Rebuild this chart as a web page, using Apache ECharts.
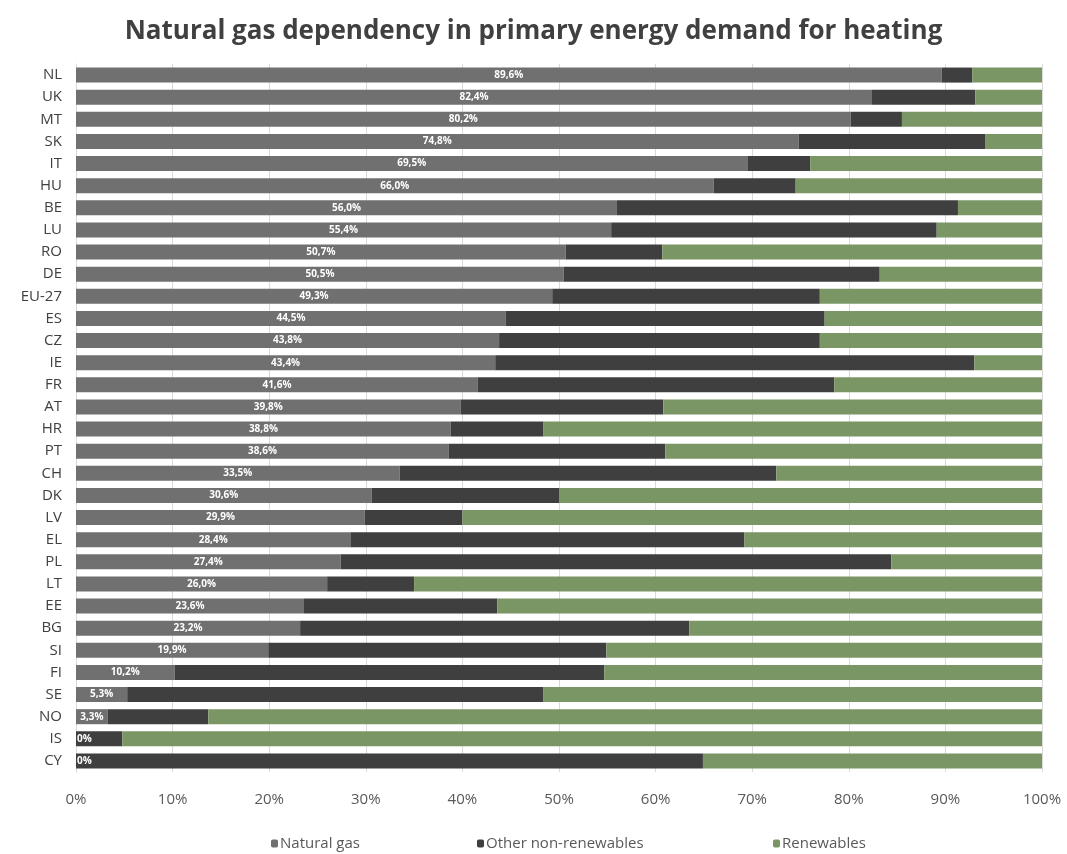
<!DOCTYPE html>
<html>
<head>
<meta charset="utf-8">
<script src="https://cdn.jsdelivr.net/npm/echarts@6/dist/echarts.min.js"></script>
<style>
  html, body { margin: 0; padding: 0; background: #fff; }
  #main { width: 1067px; height: 854px; }
</style>
</head>
<body>
<div id="main"></div>
<script>
const countries = ['NL', 'UK', 'MT', 'SK', 'IT', 'HU', 'BE', 'LU', 'RO', 'DE', 'EU-27', 'ES', 'CZ', 'IE', 'FR', 'AT',
  'HR', 'PT', 'CH', 'DK', 'LV', 'EL', 'PL', 'LT', 'EE', 'BG', 'SI', 'FI', 'SE', 'NO', 'IS', 'CY'];

// shares in %
const naturalGas = [89.6, 82.4, 80.2, 74.8, 69.5, 66.0, 56.0, 55.4, 50.7, 50.5, 49.3, 44.5, 43.8, 43.4, 41.6, 39.8,
  38.8, 38.6, 33.5, 30.6, 29.9, 28.4, 27.4, 26.0, 23.6, 23.2, 19.9, 10.2, 5.3, 3.3, 0.0, 0.0];
const otherNonRenewables = [3.2, 10.7, 5.3, 19.3, 6.5, 8.5, 35.3, 33.7, 10.0, 32.7, 27.7, 33.0, 33.2, 49.6, 36.9, 21.0,
  9.6, 22.4, 39.0, 19.4, 10.1, 40.8, 57.0, 9.0, 20.0, 40.3, 35.0, 44.5, 43.1, 10.4, 4.8, 64.9];
const renewables = [7.2, 6.9, 14.5, 5.9, 24.0, 25.5, 8.7, 10.9, 39.3, 16.8, 23.0, 22.5, 23.0, 7.0, 21.5, 39.2,
  51.6, 39.0, 27.5, 50.0, 60.0, 30.8, 15.6, 65.0, 56.4, 36.5, 45.1, 45.3, 51.6, 86.3, 95.2, 35.1];

const xTicks = ['0%', '10%', '20%', '30%', '40%', '50%', '60%', '70%', '80%', '90%', '100%'];

const colGas = '#707070';
const colOther = '#3f3f3f';
const colRen = '#7b9665';

const chart = echarts.init(document.getElementById('main'));

const fmt = v => v.toFixed(1).replace('.', ',') + '%';

// zero-width bars: the label hugs the axis
const gasData = naturalGas.map(v => v === 0
  ? { value: v, label: { position: 'insideLeft', distance: 1, formatter: '0%' } }
  : v);

const legendText = { fontSize: 15, color: '#595959', padding: [0, 0, 0, -3] };

const option = {
  backgroundColor: '#fff',
  textStyle: { fontFamily: 'Open Sans' },
  title: {
    text: 'Natural gas dependency in primary energy demand for heating',
    left: 'center',
    top: 14,
    textStyle: { fontSize: 26, fontWeight: 'bold', color: '#404040', fontFamily: 'Open Sans' }
  },
  legend: [
    { data: ['Natural gas'], left: 266, top: 831, itemWidth: 7, itemHeight: 8, textStyle: legendText },
    { data: ['Other non-renewables'], left: 472, top: 831, itemWidth: 7, itemHeight: 8, textStyle: legendText },
    { data: ['Renewables'], left: 768, top: 831, itemWidth: 7, itemHeight: 8, textStyle: legendText }
  ],
  grid: { left: 76, right: 25, top: 64, bottom: 82, containLabel: false },
  xAxis: {
    type: 'value',
    min: 0,
    max: 100,
    interval: 10,
    axisLine: { show: false },
    axisTick: { show: false },
    splitLine: { show: true, lineStyle: { color: '#d9d9d9', width: 1 } },
    axisLabel: {
      margin: 20,
      fontSize: 15,
      color: '#595959',
      formatter: v => xTicks[v / 10]
    }
  },
  yAxis: {
    type: 'category',
    data: countries,
    inverse: true,
    axisLine: { show: true, lineStyle: { color: '#d9d9d9' } },
    axisTick: { show: false },
    axisLabel: { fontSize: 15, color: '#404040', margin: 14 }
  },
  series: [
    {
      name: 'Natural gas',
      type: 'bar',
      stack: 'total',
      barWidth: '68%',
      itemStyle: { color: colGas },
      label: {
        show: true,
        position: 'inside',
        color: '#fff',
        fontSize: 10,
        fontWeight: 'bold',
        formatter: p => fmt(p.value)
      },
      data: gasData
    },
    {
      name: 'Other non-renewables',
      type: 'bar',
      stack: 'total',
      itemStyle: { color: colOther },
      data: otherNonRenewables
    },
    {
      name: 'Renewables',
      type: 'bar',
      stack: 'total',
      itemStyle: { color: colRen },
      data: renewables
    }
  ]
};

option && chart.setOption(option);
</script>
</body>
</html>
